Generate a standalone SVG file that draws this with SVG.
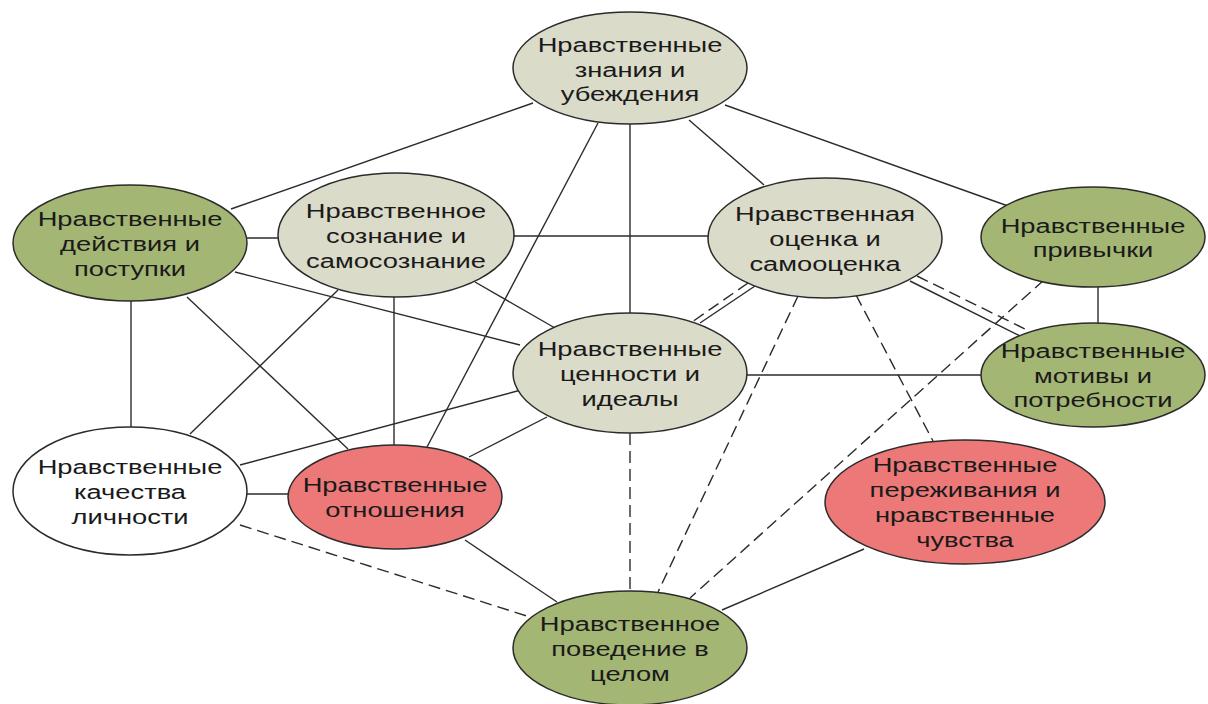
<svg xmlns="http://www.w3.org/2000/svg" width="1208" height="704" viewBox="0 0 1208 704">
  <style>
    .bg { fill: #ffffff; }
    .edge { stroke: #2b2b2b; stroke-width: 1.4; fill: none; }
    .dash { stroke-dasharray: 12 6; }
    .node { stroke: #2b2b2b; stroke-width: 1.5; }
    .beige { fill: #dadbc8; }
    .green { fill: #a4b673; }
    .red { fill: #ec7878; }
    .white { fill: #ffffff; }
    .label { font-family: "Liberation Sans", Arial, sans-serif; font-size: 21px; fill: #1a1a1a; text-anchor: middle; }
  </style>
  <rect class="bg" x="0" y="0" width="1208" height="704"/>

  <g id="connectors">
    <!-- solid links -->
    <line class="edge" x1="533" y1="103" x2="231" y2="209"/>
    <line class="edge" x1="598" y1="123" x2="427" y2="447"/>
    <line class="edge" x1="630" y1="124" x2="630" y2="314"/>
    <line class="edge" x1="689" y1="120" x2="764" y2="185"/>
    <line class="edge" x1="725" y1="105" x2="1008" y2="206"/>
    <line class="edge" x1="244" y1="238" x2="280" y2="238"/>
    <line class="edge" x1="235" y1="272" x2="520" y2="345"/>
    <line class="edge" x1="131" y1="300" x2="131" y2="428"/>
    <line class="edge" x1="187" y1="297" x2="348" y2="449"/>
    <line class="edge" x1="475" y1="282" x2="555" y2="328"/>
    <line class="edge" x1="512" y1="236" x2="709" y2="236"/>
    <line class="edge" x1="394" y1="296" x2="394" y2="446"/>
    <line class="edge" x1="338" y1="290" x2="190" y2="434"/>
    <line class="edge" x1="521" y1="390" x2="240" y2="465"/>
    <line class="edge" x1="547" y1="417" x2="469" y2="457"/>
    <line class="edge" x1="746" y1="375" x2="982" y2="375"/>
    <line class="edge" x1="755" y1="286" x2="700" y2="323"/>
    <line class="edge" x1="910" y1="281" x2="1020" y2="336"/>
    <line class="edge" x1="1098" y1="286" x2="1098" y2="324"/>
    <line class="edge" x1="246" y1="494" x2="289" y2="494"/>
    <line class="edge" x1="465" y1="540" x2="557" y2="602"/>
    <line class="edge" x1="722" y1="610" x2="864" y2="549"/>
    <!-- dashed links -->
    <line class="edge dash" x1="748" y1="283" x2="692" y2="322"/>
    <line class="edge dash" x1="917" y1="276" x2="1027" y2="330"/>
    <line class="edge dash" x1="240" y1="525" x2="530" y2="617"/>
    <line class="edge dash" x1="630" y1="433" x2="630" y2="592"/>
    <line class="edge dash" x1="798" y1="296" x2="658" y2="592"/>
    <line class="edge dash" x1="1044" y1="280" x2="690" y2="598"/>
    <line class="edge dash" x1="856" y1="295" x2="933" y2="441"/>
  </g>

  <g id="node-znaniya">
    <ellipse class="node beige" cx="630" cy="68" rx="117" ry="56"/>
    <g transform="translate(630 0) scale(1.3 1)">
      <text class="label" x="0" y="52">Нравственные</text>
      <text class="label" x="0" y="77">знания и</text>
      <text class="label" x="0" y="101">убеждения</text>
    </g>
  </g>

  <g id="node-deystviya">
    <ellipse class="node green" cx="130" cy="243" rx="117" ry="58"/>
    <g transform="translate(130 0) scale(1.3 1)">
      <text class="label" x="0" y="226">Нравственные</text>
      <text class="label" x="0" y="251">действия и</text>
      <text class="label" x="0" y="276">поступки</text>
    </g>
  </g>

  <g id="node-soznanie">
    <ellipse class="node beige" cx="396" cy="235" rx="118" ry="62"/>
    <g transform="translate(396 0) scale(1.3 1)">
      <text class="label" x="0" y="218">Нравственное</text>
      <text class="label" x="0" y="243">сознание и</text>
      <text class="label" x="0" y="268">самосознание</text>
    </g>
  </g>

  <g id="node-otsenka">
    <ellipse class="node beige" cx="825" cy="238" rx="117" ry="60"/>
    <g transform="translate(825 0) scale(1.3 1)">
      <text class="label" x="0" y="221">Нравственная</text>
      <text class="label" x="0" y="246">оценка и</text>
      <text class="label" x="0" y="271">самооценка</text>
    </g>
  </g>

  <g id="node-privychki">
    <ellipse class="node green" cx="1093" cy="237" rx="112" ry="50"/>
    <g transform="translate(1093 0) scale(1.3 1)">
      <text class="label" x="0" y="233">Нравственные</text>
      <text class="label" x="0" y="257">привычки</text>
    </g>
  </g>

  <g id="node-tsennosti">
    <ellipse class="node beige" cx="630" cy="373" rx="117" ry="60"/>
    <g transform="translate(630 0) scale(1.3 1)">
      <text class="label" x="0" y="356">Нравственные</text>
      <text class="label" x="0" y="381">ценности и</text>
      <text class="label" x="0" y="406">идеалы</text>
    </g>
  </g>

  <g id="node-motivy">
    <ellipse class="node green" cx="1093" cy="375" rx="112" ry="52"/>
    <g transform="translate(1093 0) scale(1.3 1)">
      <text class="label" x="0" y="358">Нравственные</text>
      <text class="label" x="0" y="383">мотивы и</text>
      <text class="label" x="0" y="407">потребности</text>
    </g>
  </g>

  <g id="node-kachestva">
    <ellipse class="node white" cx="130" cy="491" rx="117" ry="64"/>
    <g transform="translate(130 0) scale(1.3 1)">
      <text class="label" x="0" y="474">Нравственные</text>
      <text class="label" x="0" y="499">качества</text>
      <text class="label" x="0" y="524">личности</text>
    </g>
  </g>

  <g id="node-otnosheniya">
    <ellipse class="node red" cx="395" cy="497" rx="107" ry="52"/>
    <g transform="translate(395 0) scale(1.3 1)">
      <text class="label" x="0" y="492">Нравственные</text>
      <text class="label" x="0" y="517">отношения</text>
    </g>
  </g>

  <g id="node-perezhivaniya">
    <ellipse class="node red" cx="965" cy="502" rx="140" ry="62"/>
    <g transform="translate(965 0) scale(1.3 1)">
      <text class="label" x="0" y="472">Нравственные</text>
      <text class="label" x="0" y="497">переживания и</text>
      <text class="label" x="0" y="522">нравственные</text>
      <text class="label" x="0" y="547">чувства</text>
    </g>
  </g>

  <g id="node-povedenie">
    <ellipse class="node green" cx="630" cy="648" rx="117" ry="57"/>
    <g transform="translate(630 0) scale(1.3 1)">
      <text class="label" x="0" y="631">Нравственное</text>
      <text class="label" x="0" y="656">поведение в</text>
      <text class="label" x="0" y="681">целом</text>
    </g>
  </g>
</svg>
